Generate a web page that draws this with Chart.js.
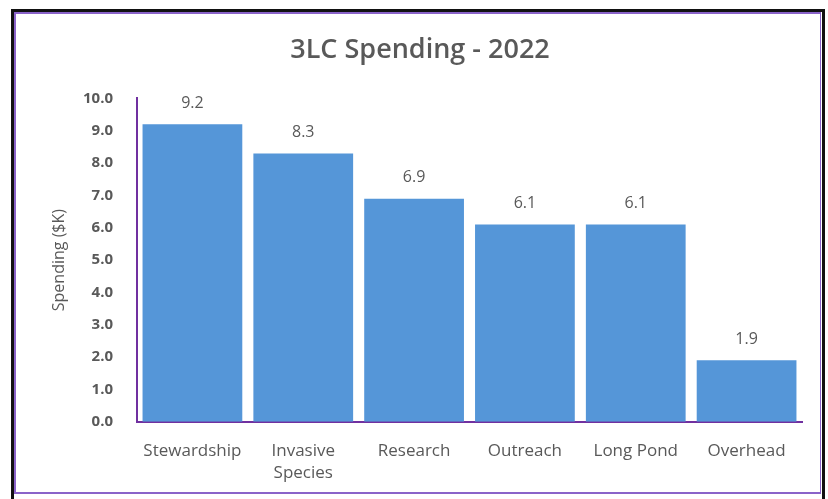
<!DOCTYPE html>
<html>
<head>
<meta charset="utf-8">
<script src="https://cdn.jsdelivr.net/npm/chart.js@4.4.0/dist/chart.umd.min.js"></script>
<style>
html,body{margin:0;padding:0;background:#fff;width:828px;height:499px;overflow:hidden;}
#outer{position:absolute;left:11px;top:9px;width:808px;height:495px;border-left:3px solid #111;border-top:3px solid #111;border-right:3px solid #111;box-sizing:content-box;}
#inner{position:absolute;left:14px;top:12px;width:804px;height:478px;border:2px solid #8a63c9;border-right-width:1px;}
#wrap{position:absolute;left:0;top:0;width:828px;height:499px;}
</style>
</head>
<body>
<div id="outer"></div>
<div id="inner"></div>
<div id="wrap"><canvas id="c" width="828" height="499"></canvas></div>
<script>
const categories = ["Stewardship", ["Invasive", "Species"], "Research", "Outreach", "Long Pond", "Overhead"];
const spending = [9.2, 8.3, 6.9, 6.1, 6.1, 1.9];
const chartTitle = "3LC Spending - 2022";
const yTitle = "Spending ($K)";

const textColor = '#595959';
const FONT = "'Open Sans', sans-serif";

const valueLabels = {
  id: 'valueLabels',
  afterDatasetsDraw(chart) {
    const ctx = chart.ctx;
    const meta = chart.getDatasetMeta(0);
    ctx.save();
    ctx.font = "16px " + FONT;
    ctx.fillStyle = textColor;
    ctx.textAlign = 'center';
    ctx.textBaseline = 'middle';
    meta.data.forEach((bar, i) => {
      ctx.fillText(spending[i].toFixed(1), bar.x, bar.y - 21);
    });
    ctx.restore();
  }
};

new Chart(document.getElementById('c'), {
  type: 'bar',
  data: {
    labels: categories,
    datasets: [{
      data: spending,
      backgroundColor: '#5596d8',
      borderWidth: 0,
      categoryPercentage: 0.9,
      barPercentage: 1.0
    }]
  },
  options: {
    responsive: false,
    animation: false,
    devicePixelRatio: 1,
    layout: { padding: { left: 38, right: 26, top: 18, bottom: -3 } },
    plugins: {
      legend: { display: false },
      tooltip: { enabled: false },
      title: {
        display: true,
        text: chartTitle,
        color: textColor,
        font: { family: FONT, size: 27, weight: '600' },
        padding: { top: 16, bottom: 32 }
      }
    },
    scales: {
      x: {
        grid: { display: false, drawTicks: false },
        border: { display: true, color: '#7030a0', width: 2 },
        ticks: {
          color: textColor,
          font: { family: FONT, size: 17, lineHeight: 1.3 },
          padding: 18,
          maxRotation: 0,
          autoSkip: false
        }
      },
      y: {
        min: 0,
        max: 10,
        afterFit: s => { s.width = 99; },
        grid: { display: false, drawTicks: false },
        border: { display: true, color: '#7030a0', width: 2 },
        ticks: {
          stepSize: 1,
          color: textColor,
          font: { family: FONT, size: 15, weight: 'bold' },
          padding: 24,
          callback: v => Number(v).toFixed(1)
        },
        title: {
          display: true,
          text: yTitle,
          color: textColor,
          font: { family: FONT, size: 16 },
          padding: { top: 12, bottom: 0 }
        }
      }
    }
  },
  plugins: [valueLabels]
});
</script>
</body>
</html>
